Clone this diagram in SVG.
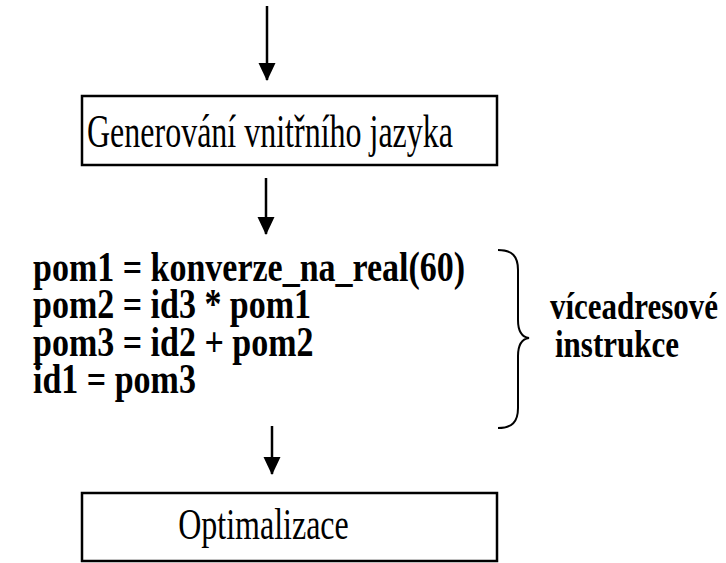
<svg xmlns="http://www.w3.org/2000/svg" width="726" height="563" viewBox="0 0 726 563">
<defs>
<marker id="ah" markerUnits="userSpaceOnUse" markerWidth="18" markerHeight="18" refX="17" refY="8.5" orient="auto" viewBox="0 0 18 17">
<path d="M0,0 L18,8.5 L0,17 Z" fill="#000"/>
</marker>
<style>
.box{fill:#fff;stroke:#000;stroke-width:2.5}
.lbl{font-family:"Liberation Serif","Times New Roman",serif;font-size:32px;fill:#000}
.code{font-family:"Liberation Serif","Times New Roman",serif;font-size:34px;font-weight:bold;fill:#000}
.edge{stroke:#000;stroke-width:2.5;fill:none;marker-end:url(#ah)}
</style>
</defs>
<rect width="726" height="563" fill="#fff"/>
<g id="connectors">
<line class="edge" x1="267" y1="6" x2="267" y2="80"/>
<line class="edge" x1="266" y1="178" x2="266" y2="234"/>
<line class="edge" x1="272" y1="426" x2="272" y2="474"/>
</g>
<g id="gen">
<rect class="box" x="82" y="96" width="415" height="69"/>
<text class="lbl" transform="translate(270,147) scale(1,1.45)" text-anchor="middle">Generování vnitřního jazyka</text>
</g>
<g id="code">
<text class="code" transform="translate(33,281) scale(1,1.22)">pom1 = konverze_na_real(60)</text>
<text class="code" transform="translate(33,318) scale(1,1.22)">pom2 = id3 * pom1</text>
<text class="code" transform="translate(33,356) scale(1,1.22)">pom3 = id2 + pom2</text>
<text class="code" transform="translate(33,393) scale(1,1.22)">id1 = pom3</text>
</g>
<g id="brace">
<path d="M498,250 C512,250 518,256 518,270 L518,320 C518,332 522,337 529,338 C522,339 518,344 518,356 L518,408 C518,422 512,428 498,428" fill="none" stroke="#000" stroke-width="2"/>
<text class="code" transform="translate(550,319) scale(1,1.22)" style="font-size:31px">víceadresové</text>
<text class="code" transform="translate(555,357) scale(1,1.22)" style="font-size:31px">instrukce</text>
</g>
<g id="opt">
<rect class="box" x="82" y="493" width="415" height="68"/>
<text class="lbl" transform="translate(263.5,539) scale(1,1.4)" text-anchor="middle">Optimalizace</text>
</g>
</svg>
